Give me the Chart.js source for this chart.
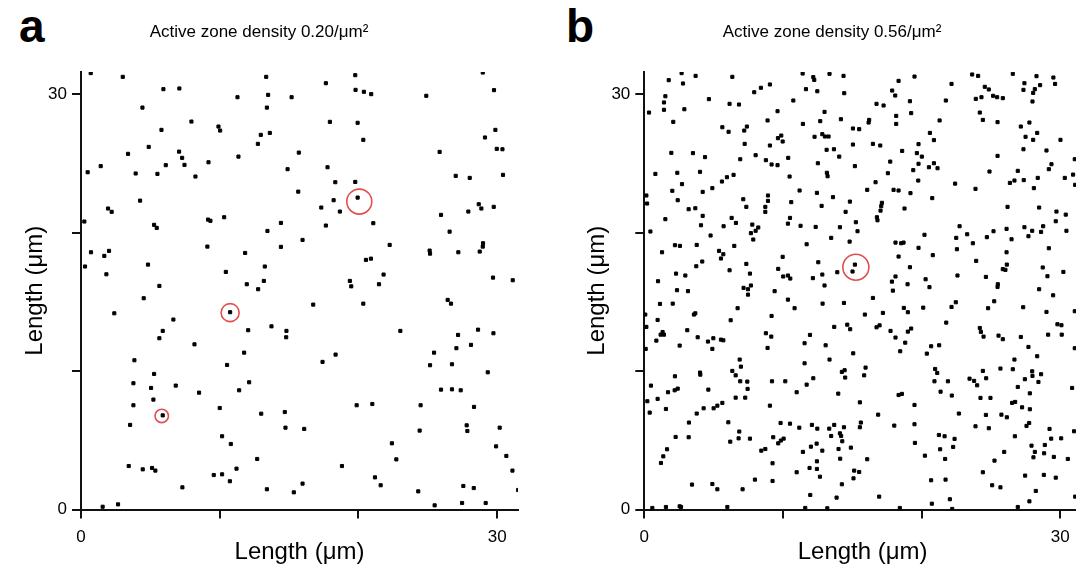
<!DOCTYPE html>
<html>
<head>
<meta charset="utf-8">
<script src="https://cdn.jsdelivr.net/npm/chart.js@4"></script>
<style>
  body { margin: 0; width: 1076px; height: 567px; overflow: hidden; position: relative; background: #fff; font-family: "Liberation Sans", Arial, sans-serif; }
  canvas { position: absolute; top: 0; }
  #chartA { left: 0; }
  #chartB { left: 583px; }
  .panel { position: absolute; top: 3px; font-weight: bold; font-size: 46px; line-height: 1; color: #000; }
</style>
</head>
<body>
<div class="panel" style="left:19px">a</div>
<div class="panel" style="left:566px">b</div>
<canvas id="chartA" width="520" height="567"></canvas>
<canvas id="chartB" width="498" height="567"></canvas>
<script>
// active zone positions, µm
const pointsA = [
  [0.70,31.52],[3.01,31.25],[13.35,31.25],[5.94,30.36],[7.09,30.41],[11.28,29.78],[13.49,29.95],[15.18,29.78],[4.43,29.03],[13.40,29.03],
  [7.96,28.02],[9.91,27.66],[10.03,27.37],[5.80,27.42],[12.96,27.06],[13.61,27.20],[12.75,26.41],[4.88,26.19],[3.39,25.69],[11.35,25.49],
  [15.70,25.78],[7.07,25.85],[7.29,25.40],[7.46,24.89],[6.11,24.87],[9.19,25.08],[1.42,24.80],[0.48,24.36],[3.94,24.27],[5.51,24.24],
  [8.25,24.05],[14.89,24.58],[15.66,22.96],[4.26,22.31],[1.95,21.74],[2.21,21.50],[0.24,20.80],[10.32,21.11],[9.16,20.94],[9.33,20.85],
  [14.41,20.70],[5.27,20.56],[5.46,20.34],[13.44,20.12],[0.72,18.58],[1.68,18.32],[2.02,18.68],[9.11,18.99],[11.83,18.53],[14.41,18.97],
  [4.83,17.69],[0.29,17.55],[13.25,17.55],[1.83,16.99],[10.44,17.16],[13.18,16.51],[5.65,16.15],[11.95,16.27],[12.77,15.91],
  [19.77,31.37],[17.65,30.79],[19.79,30.31],[20.39,30.17],[20.92,30.00],[28.96,31.56],[29.77,30.29],[24.89,29.88],[17.94,28.00],[19.94,27.93],
  [29.87,27.42],[29.12,26.87],[20.35,26.70],[25.85,25.83],[29.97,26.05],[30.38,26.02],[17.77,24.72],[27.01,24.10],[28.02,23.95],[30.42,24.17],
  [18.33,23.64],[19.77,23.66],[19.94,22.53],[18.21,22.34],[17.32,21.81],[18.66,21.52],[25.95,21.28],[27.92,21.52],[28.67,22.05],[28.86,21.74],
  [29.75,21.86],[17.65,20.51],[21.07,20.68],[26.57,20.07],[15.97,19.47],[22.25,19.11],[25.13,18.70],[25.16,18.48],[27.20,18.58],[28.98,19.23],
  [28.96,18.99],[28.74,18.63],[20.54,18.03],[20.90,18.12],[21.81,16.97],[19.38,16.51],[19.48,16.12],[21.48,16.27],[29.70,16.75],[31.12,16.56],
  [4.52,15.26],[2.40,14.17],[10.75,14.25],[6.66,13.72],[5.89,12.90],[5.65,12.37],[12.05,12.95],[13.73,13.23],[14.81,12.90],[14.79,12.44],
  [8.18,11.93],[11.76,11.33],[3.85,10.78],[10.53,10.44],[5.27,9.79],[3.78,9.12],[5.05,8.78],[6.83,8.95],[8.51,8.44],[11.40,8.61],
  [12.12,9.19],[5.22,7.94],[3.78,7.53],[5.89,6.80],[10.00,7.33],[12.99,6.92],[14.69,7.04],[3.54,6.11],[14.74,5.91],[10.17,5.29],
  [10.80,4.73],[12.70,3.65],[3.44,3.14],[4.45,2.90],[5.12,3.00],[5.36,2.81],[9.57,2.49],[10.17,2.54],[11.21,2.95],[10.73,2.04],
  [7.31,1.60],[13.40,1.46],[15.34,1.24],[1.56,0.20],[2.67,0.37],
  [16.74,14.80],[20.35,14.87],[26.43,15.14],[26.67,14.87],[23.02,12.90],[28.62,12.99],[29.73,12.73],[27.18,12.61],[28.11,11.89],[27.06,11.65],
  [25.45,11.33],[18.35,11.19],[17.41,10.66],[25.16,10.42],[26.74,10.49],[29.32,9.91],[25.95,8.66],[26.74,8.68],[27.37,8.61],[19.87,7.53],
  [21.00,7.62],[24.48,7.53],[28.33,7.41],[16.09,5.82],[24.41,5.70],[27.80,6.08],[27.85,5.67],[30.18,5.91],[22.41,4.78],[29.92,4.56],
  [22.73,3.62],[30.66,3.87],[18.81,3.14],[31.10,2.81],[21.19,2.32],[21.60,1.75],[15.97,1.87],[27.56,1.70],[28.31,1.55],[31.51,1.41],
  [24.31,1.31],[25.49,0.30],[27.47,0.47],[29.17,0.47]
];

const pointsB = [
  [2.69,31.52],[3.70,31.32],[6.35,31.25],[1.76,31.01],[2.79,30.77],[9.06,30.70],[8.41,30.46],[7.93,30.14],[1.52,29.85],[1.42,29.40],
  [4.66,29.64],[6.15,29.30],[6.83,29.25],[1.42,28.87],[2.89,28.91],[0.34,28.67],[9.61,28.77],[2.09,28.00],[8.89,28.10],[5.63,27.61],
  [6.08,27.28],[7.21,27.37],[7.40,27.66],[9.88,27.01],[9.64,26.82],[9.98,26.58],[7.24,26.41],[9.06,26.29],[1.95,25.76],[3.51,25.74],
  [4.38,25.45],[6.92,25.30],[8.03,25.59],[8.77,25.23],[9.18,24.92],[9.61,24.87],[0.80,24.24],[2.38,24.32],[4.02,24.39],[6.44,24.17],
  [5.96,24.00],[5.60,23.69],[2.72,23.50],[2.02,23.02],[4.91,23.21],[4.21,22.94],[0.15,22.68],[0.20,22.10],[2.41,22.34],[8.92,22.68],
  [8.92,22.29],[7.14,22.41],[7.36,21.86],[8.73,21.86],[8.73,21.50],[3.20,21.69],[3.68,21.76],[4.21,21.21],[1.52,20.97],[6.30,21.06],
  [6.61,20.70],[4.09,20.53],[5.72,20.46],[7.79,20.58],[8.22,20.37],[8.03,20.13],[7.69,19.96],[0.44,20.08],[4.78,19.79],[7.86,19.50],
  [2.21,19.09],[2.57,19.04],[3.78,19.11],[6.49,19.04],[1.28,18.58],[5.39,18.68],[5.70,18.44],[5.53,18.13],[9.98,18.25],[4.18,17.91],
  [3.75,17.57],[7.36,17.74],[6.15,17.28],[9.66,17.38],[2.29,17.04],[2.96,16.90],[7.62,17.04],[10.02,16.83],[0.99,16.49],[2.36,15.84],
  [3.15,15.77],[7.16,16.01],[7.69,16.18],[7.48,15.91],[9.40,15.77],
  [11.42,31.49],[12.19,31.23],[12.26,31.03],[13.36,31.47],[14.37,31.32],[18.34,30.96],[19.49,31.27],[11.66,30.36],[12.48,30.21],[14.42,30.07],
  [17.88,30.26],[18.10,29.90],[10.75,29.54],[16.75,29.30],[17.26,29.18],[19.16,29.49],[13.00,28.72],[19.25,28.63],[11.44,27.85],[12.69,28.05],
  [14.18,28.19],[16.22,28.14],[16.18,27.95],[18.17,28.43],[18.17,27.85],[15.05,27.52],[15.50,27.47],[12.28,26.92],[12.84,27.11],[13.03,26.94],
  [13.29,26.94],[20.60,27.20],[15.05,26.36],[16.49,26.41],[17.02,26.29],[19.78,26.39],[13.15,25.98],[13.68,26.02],[14.06,25.49],[18.60,25.90],
  [19.66,25.74],[20.02,25.49],[10.38,25.40],[12.52,25.01],[15.19,24.80],[17.74,25.13],[19.78,24.97],[20.53,24.72],[19.40,24.51],[13.17,24.32],
  [13.22,24.07],[17.57,24.29],[10.48,24.05],[16.68,23.64],[19.76,23.76],[11.20,23.04],[12.45,22.87],[16.08,23.09],[17.98,23.09],[18.34,23.04],
  [19.20,22.85],[10.60,22.20],[13.61,22.56],[12.79,21.93],[14.83,22.24],[17.14,22.15],[17.09,21.91],[17.04,21.59],[18.77,21.74],[14.52,21.50],
  [10.51,21.06],[10.36,20.65],[16.78,21.11],[16.82,20.89],[11.27,20.49],[12.36,20.41],[14.11,20.39],[15.26,20.75],[15.38,20.10],[13.48,19.62],
  [14.81,19.35],[11.71,19.16],[18.12,19.28],[18.53,19.23],[18.70,19.28],[20.21,19.84],[19.78,18.90],[18.34,18.27],[12.55,17.86],[15.19,17.69],
  [15.02,17.19],[13.92,17.14],[19.16,17.50],[12.84,16.97],[12.16,16.71],[10.36,16.90],[10.53,16.68],[18.12,16.83],[20.29,16.63],[13.00,16.18],
  [17.86,16.46],[18.99,16.27],[20.57,16.06],
  [23.65,31.42],[24.08,31.32],[26.58,31.47],[28.29,31.30],[29.51,31.20],[29.63,30.74],[22.16,30.74],[27.42,30.79],[27.35,30.31],[24.56,30.53],
  [24.85,30.34],[28.55,30.65],[28.17,30.36],[28.05,30.09],[23.91,29.66],[24.32,29.78],[25.16,29.88],[25.45,29.78],[25.86,29.71],[21.75,29.54],
  [28.00,29.47],[24.20,28.67],[24.42,28.14],[25.48,27.98],[21.30,28.10],[27.16,27.66],[27.78,27.95],[27.50,26.92],[28.34,27.20],[28.05,26.70],
  [30.02,26.70],[20.89,26.68],[27.35,26.02],[29.01,25.93],[25.48,25.54],[31.05,25.30],[20.89,25.01],[21.15,24.65],[29.37,24.94],[29.18,24.58],
  [24.90,24.41],[26.94,24.46],[30.93,24.19],[30.33,23.95],[28.38,23.95],[27.37,23.79],[26.70,23.76],[26.37,23.59],[28.10,23.21],[22.42,23.54],
  [23.89,23.16],[31.08,23.45],[20.77,22.49],[26.20,21.86],[28.48,21.81],[29.73,21.52],[30.40,21.30],[29.68,20.82],[22.74,20.46],[27.42,20.39],
  [28.77,20.46],[26.13,20.27],[25.19,20.10],[23.29,19.88],[22.50,19.62],[24.71,19.67],[27.98,20.13],[27.71,19.74],[28.62,20.05],[30.45,20.13],
  [26.49,19.52],[23.70,19.23],[22.55,18.80],[29.18,18.87],[26.13,18.58],[20.81,18.37],[23.94,17.96],[26.15,17.69],[25.86,17.36],[26.05,17.31],
  [28.74,17.48],[30.23,17.16],[22.59,16.90],[24.64,16.80],[29.08,16.85],[25.50,16.27],[25.48,16.08],[28.48,15.91],
  [7.48,15.52],[1.13,14.85],[2.05,14.87],[6.73,14.54],[0.07,14.08],[3.58,14.08],[3.68,14.17],[9.18,13.98],[0.96,13.69],[6.23,13.67],
  [0.15,13.19],[3.10,12.95],[1.32,12.82],[1.42,12.63],[1.18,12.63],[0.87,12.20],[3.85,12.44],[4.59,12.13],[4.98,12.37],[5.53,12.27],
  [5.70,12.22],[8.77,12.73],[9.16,12.49],[2.55,11.84],[4.91,11.60],[8.89,11.67],[0.10,11.60],[6.88,10.83],[6.97,10.32],[6.35,10.01],
  [6.59,9.69],[4.02,9.89],[4.04,9.74],[2.21,9.62],[6.92,9.26],[7.43,9.24],[9.21,9.26],[10.17,9.26],[0.48,8.95],[7.45,8.71],
  [2.41,8.73],[2.19,8.61],[1.71,8.47],[4.62,8.66],[6.59,8.08],[7.28,8.08],[0.96,7.99],[0.22,7.82],[5.63,7.70],[5.27,7.50],
  [5.00,7.31],[4.28,7.31],[9.06,7.50],[1.56,7.26],[3.78,6.93],[0.39,7.00],[3.22,6.28],[6.06,6.30],[9.83,6.25],[6.85,5.63],
  [2.26,5.24],[3.20,5.22],[6.80,5.14],[7.62,5.12],[9.30,5.22],[6.20,4.90],[9.66,4.78],[9.85,4.98],[10.05,5.12],[8.73,4.37],
  [8.44,4.25],[1.64,4.35],[1.37,3.84],[1.20,3.36],[9.25,3.34],[7.98,2.16],[9.25,2.06],[3.44,1.80],[4.91,1.84],[5.27,1.46],
  [7.09,1.46],[0.58,0.11],[1.56,0.18],[2.55,0.23],[2.65,0.18],[5.99,0.18],
  [17.93,15.81],[10.36,15.16],[10.84,14.54],[12.86,14.87],[14.40,14.92],[16.49,15.28],[15.91,14.08],[17.21,14.20],[18.72,14.56],[19.01,14.25],
  [20.12,14.58],[11.95,12.61],[11.56,12.01],[13.70,13.19],[14.64,13.35],[14.85,13.02],[16.75,13.16],[16.97,13.30],[17.76,12.90],[18.12,12.42],
  [19.01,12.85],[19.25,13.07],[18.82,12.05],[18.46,11.43],[13.08,11.86],[15.07,11.28],[20.38,11.26],[20.69,11.79],[11.56,10.56],[13.36,10.83],
  [14.25,9.94],[14.45,10.06],[14.49,9.53],[15.96,10.25],[15.86,9.69],[12.19,9.48],[11.71,9.02],[10.99,8.47],[13.99,8.37],[18.34,8.27],
  [18.58,8.35],[15.55,7.74],[19.49,7.55],[16.87,6.85],[10.51,6.20],[11.18,5.91],[12.09,6.11],[12.48,5.84],[13.34,5.84],[13.70,6.11],
  [14.40,5.94],[14.11,5.50],[14.20,5.31],[14.28,4.93],[13.48,5.31],[15.62,6.28],[15.55,5.94],[18.03,6.06],[19.49,6.16],[12.43,4.76],
  [12.02,4.54],[12.84,4.25],[11.44,4.16],[14.01,4.37],[14.90,4.47],[19.52,4.81],[20.24,3.89],[14.13,3.67],[16.08,3.63],[12.45,3.48],
  [12.45,2.93],[11.92,3.00],[12.67,2.37],[10.99,2.69],[15.14,2.81],[15.50,2.71],[15.09,2.25],[20.69,2.11],[14.25,1.82],[11.97,1.05],
  [13.87,0.86],[16.94,0.93],[11.61,0.11],[13.20,0.09],[18.43,0.11],
  [29.49,15.47],[22.47,14.97],[22.16,14.63],[25.24,15.04],[24.80,14.54],[27.33,14.61],[29.01,14.27],[31.05,14.32],[21.78,13.50],[29.80,13.38],
  [30.09,13.31],[24.20,13.11],[24.28,12.83],[24.47,12.49],[25.55,12.56],[25.86,12.30],[27.16,12.46],[29.13,12.63],[30.11,12.63],[21.27,11.86],
  [27.71,11.74],[31.05,11.65],[28.34,11.07],[26.70,10.83],[20.98,10.15],[21.13,9.86],[20.93,9.26],[21.90,9.26],[24.42,10.01],[25.69,10.18],
  [26.58,10.13],[27.98,9.98],[28.00,9.65],[28.62,9.77],[23.46,9.45],[23.79,9.29],[24.01,8.97],[24.66,9.48],[27.45,9.41],[28.43,9.21],
  [26.94,8.85],[30.86,8.78],[21.37,8.51],[22.18,8.23],[27.81,8.39],[24.25,8.06],[24.97,8.06],[26.53,7.70],[26.75,7.77],[27.25,7.38],
  [27.81,7.24],[22.69,6.93],[24.64,6.83],[25.76,6.85],[26.15,6.66],[27.76,6.25],[27.57,6.04],[23.89,6.01],[24.85,5.87],[26.73,5.29],
  [21.25,5.38],[21.66,5.29],[22.38,5.10],[22.28,4.52],[21.34,4.35],[29.23,5.82],[29.35,5.12],[30.07,5.14],[31.00,5.65],[27.93,4.61],
  [28.17,4.16],[28.89,4.66],[28.84,4.06],[28.07,3.77],[29.54,3.80],[30.55,3.65],[25.96,4.16],[25.26,3.53],[21.70,3.65],[21.73,2.16],
  [24.42,2.69],[27.47,2.45],[28.82,2.50],[29.68,2.30],[25.09,1.75],[25.69,1.60],[28.24,1.34],[22.04,0.74],[20.74,0.42],[27.78,0.59],
  [31.08,0.93],[26.94,0.18],[22.21,0.04]
];

// centres of the red rings
const ringsA = [[20.06,22.24],[10.75,14.22],[5.82,6.76]];
const ringsB = [[15.26,17.50]];
const ringSizeA = [12.5, 9, 6.7];
const ringSizeB = [13];

const titleA = "Active zone density 0.20/\u03bcm\u00b2";
const titleB = "Active zone density 0.56/\u03bcm\u00b2";
const axisTitle = "Length (\u03bcm)";
const tickValues = [0, 10, 20, 30];
const tickLabels = ["0", "", "", "30"];

const FONT = "'Liberation Sans', Arial, sans-serif";

function axis(horizontal, titlePad, size) {
  return {
    type: "linear",
    min: 0,
    max: horizontal ? 31.5 : 31.6,
    afterBuildTicks: s => { s.ticks = tickValues.map(v => ({ value: v })); },
    afterFit: s => {
      // fixed axis box, no extra room for edge labels
      if (horizontal) s.height = size; else s.width = size;
      s.paddingLeft = s.paddingRight = s.paddingTop = s.paddingBottom = 0;
    },
    grid: { drawOnChartArea: false, drawTicks: true, tickLength: 9, color: "#111", lineWidth: 2 },
    border: { color: "#111", width: 2 },
    ticks: {
      color: "#000",
      font: { family: FONT, size: 17 },
      padding: horizontal ? 9 : 5,
      callback: v => tickLabels[tickValues.indexOf(v)] ?? ""
    },
    title: {
      display: true,
      text: axisTitle,
      color: "#000",
      font: { family: FONT, size: 24 },
      padding: { top: titlePad, bottom: 0 }
    }
  };
}

function makeChart(id, pts, rings, ringSize, title, yPad, yWidth, right) {
  return new Chart(document.getElementById(id), {
    type: "scatter",
    data: {
      datasets: [
        {
          data: pts.map(p => ({ x: p[0], y: p[1] })),
          pointStyle: "rect",
          pointRadius: 2.2,
          borderWidth: 1,
          backgroundColor: "#000",
          borderColor: "#000"
        },
        {
          data: rings.map(p => ({ x: p[0], y: p[1] })),
          pointStyle: "circle",
          pointRadius: ringSize,
          borderWidth: 1.6,
          backgroundColor: "rgba(0,0,0,0)",
          borderColor: "#e05050"
        }
      ]
    },
    options: {
      responsive: false,
      animation: false,
      events: [],
      layout: { autoPadding: false, padding: { left: 0, right: right, top: 0, bottom: 0 } },
      plugins: {
        legend: { display: false },
        tooltip: { enabled: false },
        title: {
          display: true,
          text: title,
          color: "#000",
          font: { family: FONT, size: 17, weight: "normal" },
          padding: { top: 22, bottom: 29.6 }
        }
      },
      scales: {
        x: axis(true, 0, 57.5),
        y: axis(false, yPad, yWidth)
      }
    }
  });
}

makeChart("chartA", pointsA, ringsA, ringSizeA, titleA, 20.6, 81, 2);
makeChart("chartB", pointsB, ringsB, ringSizeB, titleB, 0, 61.3, 0);
</script>
</body>
</html>
